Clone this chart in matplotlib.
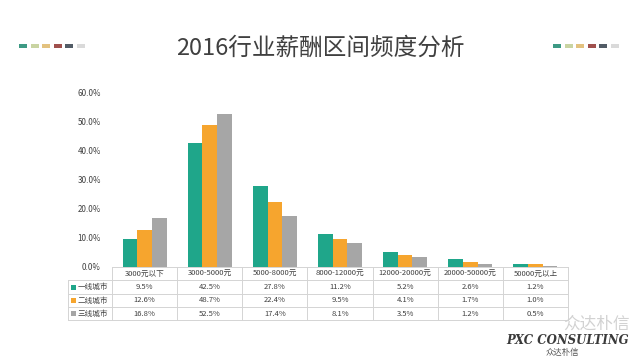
import matplotlib
matplotlib.use("Agg")
import matplotlib.pyplot as plt
import matplotlib.transforms as mtransforms
from matplotlib.patches import Rectangle
import numpy as np

plt.rcParams['font.family'] = ['Noto Sans CJK SC', 'DejaVu Sans']

title = "2016行业薪酬区间频度分析"
categories = ["3000元以下", "3000-5000元", "5000-8000元", "8000-12000元",
              "12000-20000元", "20000-50000元", "50000元以上"]
series_names = ["一线城市", "二线城市", "三线城市"]
tier1 = [9.5, 42.5, 27.8, 11.2, 5.2, 2.6, 1.2]
tier2 = [12.6, 48.7, 22.4, 9.5, 4.1, 1.7, 1.0]
tier3 = [16.8, 52.5, 17.4, 8.1, 3.5, 1.2, 0.5]
yticks = [0, 10, 20, 30, 40, 50, 60]

series = [tier1, tier2, tier3]
colors = ["#1FA68A", "#F6A52E", "#A6A6A6"]
txt = "#404040"
W, H = 640, 360

fig = plt.figure(figsize=(6.4, 3.6), dpi=100)
fig.patch.set_facecolor("white")

def fy(px):
    return 1 - px / H

def fx(px):
    return px / W

ax = fig.add_axes([fx(112), fy(267), fx(568) - fx(112), fy(92) - fy(267)])
x = np.arange(len(categories))
bw = 0.225
for i, (vals, c) in enumerate(zip(series, colors)):
    ax.bar(x + (i - 1) * bw, vals, width=bw, color=c, linewidth=0)
ax.set_xlim(-0.5, len(categories) - 0.5)
ax.set_ylim(0, 60)
ax.set_yticks(yticks)
ax.set_yticklabels([f"{v:.1f}%" for v in yticks], fontsize=5.8, color=txt)
ax.tick_params(axis='y', length=0, pad=8)
ax.set_xticks([])
for s in ["top", "right", "left", "bottom"]:
    ax.spines[s].set_visible(False)
ax.patch.set_alpha(0)

# table
tr = mtransforms.blended_transform_factory(ax.transData, fig.transFigure)
line_c = "#D4D4D4"
rows_px = [267, 280, 294, 307, 320]
x_left_lab = -0.5 - 44 / 65.0
x0, x1 = -0.5, len(categories) - 0.5
lw = 0.7
ax.plot([x0, x1], [fy(267)] * 2, transform=tr, color=line_c, lw=lw, clip_on=False)
for r in rows_px[1:]:
    ax.plot([x_left_lab, x1], [fy(r)] * 2, transform=tr, color=line_c, lw=lw, clip_on=False)
for k in range(len(categories) + 1):
    ax.plot([k - 0.5] * 2, [fy(267), fy(320)], transform=tr, color=line_c, lw=lw, clip_on=False)
ax.plot([x_left_lab] * 2, [fy(280), fy(320)], transform=tr, color=line_c, lw=lw, clip_on=False)

for k, cat in enumerate(categories):
    ax.text(k, fy(273.5), cat, transform=tr, ha='center', va='center', fontsize=5.5, color=txt)
for i, (name, vals, c) in enumerate(zip(series_names, series, colors)):
    yc = (rows_px[i + 1] + rows_px[i + 2]) / 2
    ax.add_patch(Rectangle((x_left_lab + 0.04, fy(yc + 2.5)), 0.08, 5 / H,
                           transform=tr, color=c, clip_on=False, lw=0))
    ax.text(x_left_lab + 0.15, fy(yc), name, transform=tr, ha='left', va='center',
            fontsize=5.5, color=txt)
    for k, v in enumerate(vals):
        ax.text(k, fy(yc), f"{v:.1f}%", transform=tr, ha='center', va='center',
                fontsize=5.5, color=txt)

# title
fig.text(0.5, fy(48), title, ha='center', va='center', fontsize=17, color="#404040")

# decorative squares
deco = ["#3D9A84", "#C9D4A2", "#E3C27F", "#A0504D", "#525C66", "#DADADA"]
for start in (19, 553):
    for j, c in enumerate(deco):
        fig.patches.append(Rectangle((fx(start + j * 11.5), fy(48)), 8 / W, 4 / H,
                                     transform=fig.transFigure, color=c, lw=0))

# watermark
fig.text(fx(596), fy(324), "众达朴信", ha='center', va='center', fontsize=12, color="#D2D2D2")
fig.text(fx(568), fy(340), "PXC CONSULTING", ha='center', va='center', fontsize=8.5,
         color="#3A3A3A", family=['DejaVu Serif'], style='italic', weight='bold')
fig.text(fx(562), fy(352), "众达朴信", ha='center', va='center', fontsize=6, color="#555555")

fig.savefig("out.png", dpi=100)
